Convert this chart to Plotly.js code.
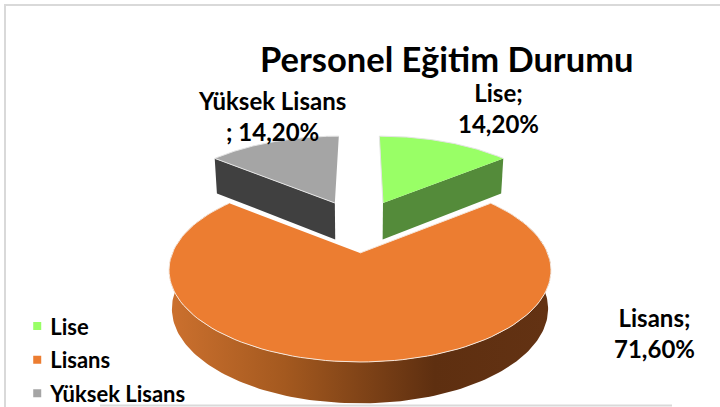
<!DOCTYPE html>
<html><head><meta charset="utf-8">
<script src="https://cdn.plot.ly/plotly-3.0.1.min.js"></script>
<style>html,body{margin:0;padding:0;background:#fff}#c{width:720px;height:407px}</style></head>
<body><div id="c"></div>
<script>
const categories = ['Lise', 'Lisans', 'Yüksek Lisans'];
const shares = [14.2, 71.6, 14.2];
const topColors = ['#99ff66', '#ec7d31', '#a5a5a5'];
const wallColors = ['#548b3a', '#b5622a', '#404040'];
const labelTexts = ['Lise;<br>14,20%', 'Lisans;<br>71,60%', 'Yüksek Lisans<br>; 14,20%'];
const labelX = [498, 654, 272];
const labelY = [108, 333, 116];
const chartTitle = 'Personel Eğitim Durumu';

const FONT = 'Lato, Carlito, sans-serif';
// projection of the tilted disc into page pixels
const cx = 360, cy = 253, rx = 187.6, ry = 88.6, k = 0.187;
function project(u, v, lower) {
  const s = 1 / (1 + k * v);
  const w = lower ? 0.985 : 1;
  return [cx + rx * u * s * w, cy - ry * v * s + (lower ? 23 + 15 * s : 0)];
}
const total = shares.reduce((a, b) => a + b, 0);
const sliceOffset = [[0.137, 0.631], [0, 0], [-0.15, 0.631]];
const sliceRadius = [[1.05, 1.12], [1, 1], [1.05, 1.12]];

function rimPoint(i, deg, lower) {
  const [ou, ov] = sliceOffset[i], [ru, rv] = sliceRadius[i];
  const t = deg * Math.PI / 180;
  return project(ou + ru * Math.sin(t), ov + rv * Math.cos(t), lower);
}
function sector(i, a0, a1) {
  const pts = [project(sliceOffset[i][0], sliceOffset[i][1], false)];
  const n = 120;
  for (let j = 0; j <= n; j++) pts.push(rimPoint(i, a0 + (a1 - a0) * j / n, false));
  return pts;
}
// front wall of an exploded slice: apex to the outer corner of its cut face
function cutWall(i, deg) {
  const [ou, ov] = sliceOffset[i];
  return [project(ou, ov, false), rimPoint(i, deg, false), rimPoint(i, deg, true), project(ou, ov, true)];
}
function arcWall(i, a0, a1) {
  const up = [], low = [], n = 200;
  for (let j = 0; j <= n; j++) {
    const d = a0 + (a1 - a0) * j / n;
    up.push(rimPoint(i, d, false)); low.push(rimPoint(i, d, true));
  }
  return up.concat(low.reverse());
}
const starts = []; let acc = 0;
shares.forEach(v => { starts.push(acc); acc += v / total * 360; });
const ends = starts.map((s, i) => s + shares[i] / total * 360);

function poly(pts, extra) {
  return Object.assign({
    type: 'scatter', mode: 'lines', x: pts.map(p => p[0]), y: pts.map(p => p[1]),
    fill: 'toself', showlegend: false, hoverinfo: 'skip', line: { width: 0 }
  }, extra);
}
const traces = [];
// Yüksek Lisans: its visible cut face is the one at the slice start
traces.push(poly(cutWall(2, starts[2]), { fillcolor: wallColors[2] }));
traces.push(poly(sector(2, starts[2], ends[2]), { fillcolor: topColors[2], line: { color: '#e4e4e4', width: 1 } }));
// Lise: its visible cut face is the one at the slice end
traces.push(poly(cutWall(0, ends[0]), { fillcolor: wallColors[0] }));
traces.push(poly(sector(0, starts[0], ends[0]), { fillcolor: topColors[0], line: { color: '#e4e4e4', width: 1 } }));
// Lisans
traces.push(poly(arcWall(1, starts[1], ends[1]), {
  fillgradient: { type: 'horizontal', start: 172, stop: 547,
    colorscale: [[0, '#cb702e'], [0.3, '#a4591f'], [0.7, '#5e2f10'], [1, '#633213']] }
}));
traces.push(poly(sector(1, starts[1], ends[1]), { fillcolor: topColors[1], line: { color: '#f6e6da', width: 1 } }));

categories.forEach((c, i) => traces.push({
  type: 'scatter', mode: 'markers', x: [null], y: [null], name: c, legendgroup: c,
  marker: { symbol: 'square', size: 8, color: topColors[i] }, hoverinfo: 'skip'
}));

const annotations = categories.map((c, i) => ({
  xref: 'x', yref: 'y', x: labelX[i], y: labelY[i], text: labelTexts[i], showarrow: false,
  align: 'center', xanchor: 'center', yanchor: 'middle',
  font: { family: FONT, size: 24, color: '#000' }
}));
annotations.push({ xref: 'x', yref: 'y', x: 447, y: 58, text: chartTitle, showarrow: false,
  xanchor: 'center', yanchor: 'middle', font: { family: FONT, size: 34.5, color: '#000' } });
annotations.forEach(a => { a.text = a.text.split('<br>').map(t => '<b>' + t + '</b>').join('<br>'); });

const frame = [
  { type: 'line', xref: 'x', yref: 'y', x0: 4, x1: 720, y0: 5, y1: 5, line: { color: '#d9d9d9', width: 2 } },
  { type: 'line', xref: 'x', yref: 'y', x0: 5, x1: 5, y0: 5, y1: 407, line: { color: '#d9d9d9', width: 2 } },
  { type: 'line', xref: 'x', yref: 'y', x0: 100, x1: 672, y0: 405.5, y1: 405.5, line: { color: '#d9d9d9', width: 2 } }
];

Plotly.newPlot('c', traces, {
  width: 720, height: 407, margin: { l: 0, r: 0, t: 0, b: 0, autoexpand: false },
  paper_bgcolor: '#fff', plot_bgcolor: '#fff',
  xaxis: { range: [0, 720], visible: false, fixedrange: true },
  yaxis: { range: [407, 0], visible: false, fixedrange: true },
  shapes: frame, annotations,
  legend: { x: 0.0142, y: 0.25, xanchor: 'left', yanchor: 'top', bgcolor: 'rgba(0,0,0,0)',
    tracegroupgap: 2, traceorder: 'grouped', itemwidth: 30,
    font: { family: FONT, size: 22, color: '#000', weight: 700 } }
}, { displayModeBar: false, staticPlot: true }).then(() => {
  document.querySelectorAll('#c .legend .legendpoints').forEach(n => n.setAttribute('transform', 'translate(7,0)'));
});
</script></body></html>
